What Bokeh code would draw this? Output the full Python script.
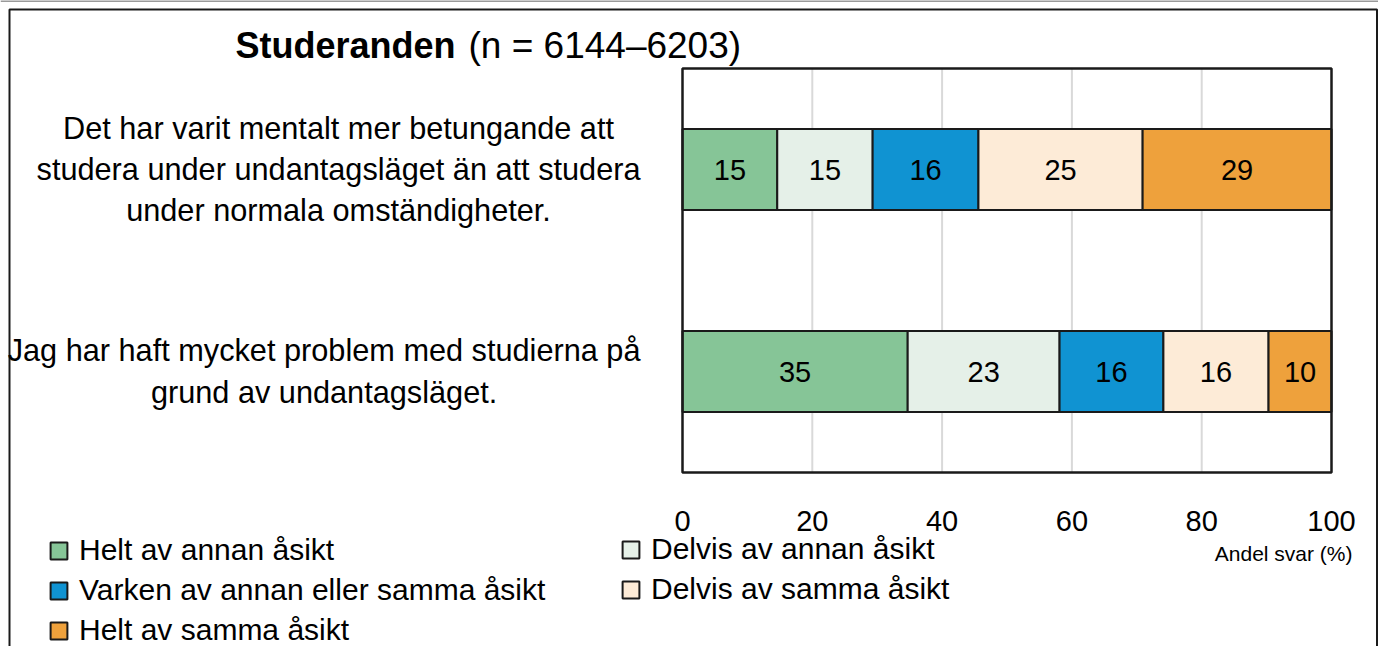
import numpy as np
from bokeh.plotting import figure
from bokeh.models import Range1d, Label, Legend, LegendItem, ColumnDataSource
from bokeh.core.properties import value
from bokeh.embed import file_html
from bokeh.resources import INLINE

# ---------------- data ----------------
statements = [
    "Det har varit mentalt mer betungande att\nstudera under undantagsläget än att studera\nunder normala omständigheter.",
    "Jag har haft mycket problem med studierna på\ngrund av undantagsläget.",
]
responses = [
    "Helt av annan åsikt",
    "Delvis av annan åsikt",
    "Varken av annan eller samma åsikt",
    "Delvis av samma åsikt",
    "Helt av samma åsikt",
]
helt_annan = [14.6, 34.7]
delvis_annan = [14.7, 23.4]
varken = [16.3, 16.0]
delvis_samma = [25.3, 16.2]
helt_samma = [29.1, 9.7]
x_ticks = [0, 20, 40, 60, 80, 100]
title_bold = "Studeranden"
title_rest = "(n = 6144–6203)"
x_title = "Andel svar (%)"

# ---------------- style / layout ----------------
colors = ["#86C597", "#E5F0E8", "#1093D2", "#FDEBD7", "#EEA13C"]
FONT = "Liberation Sans"
W, H = 1378, 646
BOX_L, BOX_R, BOX_T, BOX_B = 682, 1331, 68, 472   # plot box in canvas pixels

n = len(statements)
x0, x1 = x_ticks[0], x_ticks[-1]
y_lo, y_hi = -0.5, n - 0.5
sx = (BOX_R - BOX_L) / (x1 - x0)
sy = (BOX_B - BOX_T) / (y_hi - y_lo)
x_start = x0 - BOX_L / sx
x_end = x1 + (W - BOX_R) / sx
y_end = y_hi + BOX_T / sy
y_start = y_lo - (H - BOX_B) / sy

def px_x(px):
    return x_start + px / sx

def px_y(py):
    return y_end - py / sy

series = [helt_annan, delvis_annan, varken, delvis_samma, helt_samma]
keys = ["k%d" % i for i in range(len(series))]
pos = [float(n - 1 - i) for i in range(n)]

data = {"pos": pos}
for k, s in zip(keys, series):
    data[k] = s
src = ColumnDataSource(data)

p = figure(width=W, height=H, output_backend="svg", toolbar_location=None,
           x_range=Range1d(x_start, x_end), y_range=Range1d(y_start, y_end),
           x_axis_location=None, y_axis_location=None,
           min_border=0, min_border_left=0, min_border_right=0,
           min_border_top=0, min_border_bottom=0)
p.outline_line_color = None
p.grid.visible = False

# outer frame of the picture
p.segment(x0=[px_x(0)], y0=[px_y(0.5)], x1=[px_x(W)], y1=[px_y(0.5)],
          line_color="#9a9a9a", line_width=2)
p.quad(left=[px_x(9)], right=[px_x(1376.5)], top=[px_y(9)], bottom=[px_y(H + 20)],
       fill_color=None, line_color="#1a1a1a", line_width=2)

# grid lines inside the plot box
inner = x_ticks[1:-1]
p.segment(x0=inner, y0=[y_lo] * len(inner), x1=inner, y1=[y_hi] * len(inner),
          line_color="#d9d9d9", line_width=2)

rends = p.hbar_stack(keys, y="pos", height=0.4, source=src, fill_color=colors,
                     line_color="#1a1a1a", line_width=2)

# plot box
p.quad(left=[x0], right=[x1], bottom=[y_lo], top=[y_hi], fill_color=None,
       line_color="#1a1a1a", line_width=2.5)

# value labels
arr = np.array(series)
lefts = np.vstack([np.zeros(n), np.cumsum(arr, axis=0)[:-1]])
centers = lefts + arr / 2
vx, vy, vt = [], [], []
for j in range(len(series)):
    for i in range(n):
        vx.append(float(centers[j, i]))
        vy.append(pos[i])
        vt.append(str(int(round(series[j][i]))))
p.text(x="x", y="y", text="t", source=ColumnDataSource(dict(x=vx, y=vy, t=vt)),
       text_align="center", text_baseline="middle", text_font=value(FONT),
       text_font_size="29px", text_color="black")

# x tick labels
p.text(x=x_ticks, y=[y_lo] * len(x_ticks), text=[str(t) for t in x_ticks],
       y_offset=48, text_align="center", text_baseline="middle",
       text_font=value(FONT), text_font_size="29px", text_color="black")

# category labels
for i, s in enumerate(statements):
    p.add_layout(Label(x=x0, y=pos[i], x_offset=-42, text=s,
                       anchor="center_right", text_align="center",
                       text_font=FONT, text_font_size="30.7px", text_line_height=1.18,
                       text_color="black"))

# title
p.add_layout(Label(x=x0, y=y_hi, x_offset=455 - BOX_L, y_offset=23, text=title_bold,
                   text_align="right", text_baseline="middle", text_font=FONT,
                   text_font_size="36px", text_font_style="bold", text_color="black"))
p.add_layout(Label(x=x0, y=y_hi, x_offset=468 - BOX_L, y_offset=23, text=title_rest,
                   text_align="left", text_baseline="middle", text_font=FONT,
                   text_font_size="37px", text_color="black"))

# x axis title
p.add_layout(Label(x=x1, y=y_lo, x_offset=21, y_offset=-81, text=x_title,
                   text_align="right", text_baseline="middle", text_font=FONT,
                   text_font_size="21px", text_color="black"))

# legends
items = [LegendItem(label=r, renderers=[rd]) for r, rd in zip(responses, rends)]

def mk_legend(its, loc):
    lg = Legend(items=its, location=loc, orientation="vertical",
                label_text_font=FONT, label_text_font_size="30px", label_text_color="black",
                glyph_width=21, glyph_height=21, label_standoff=10, spacing=6,
                padding=0, margin=0, border_line_color=None, background_fill_alpha=0)
    p.add_layout(lg, "center")

mk_legend([items[0], items[2], items[4]], (48, -1))
mk_legend([items[1], items[3]], (620, 40))

open("out.html", "w").write(file_html(p, INLINE))
